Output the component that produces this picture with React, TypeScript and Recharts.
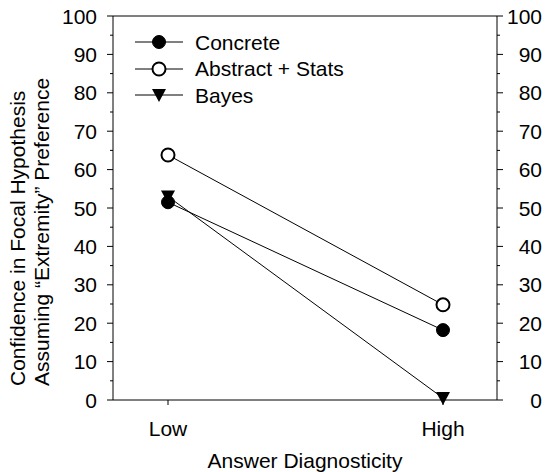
import { Legend, Line, LineChart, ReferenceLine, XAxis, YAxis } from "recharts";

const categories = ["Low", "High"];
const concrete = [51.5, 18.2];
const abstractStats = [63.8, 24.8];
const bayes = [53, 0.5];
const yTicks = [0, 5, 10, 15, 20, 25, 30, 35, 40, 45, 50, 55, 60, 65, 70, 75, 80, 85, 90, 95, 100];

const FONT = "'Liberation Sans', Arial, Helvetica, sans-serif";
const FONT_SIZE = 21;

const data = categories.map((name, i) => ({
  name,
  concrete: concrete[i],
  abstractStats: abstractStats[i],
  bayes: bayes[i],
}));

// marker shapes shared between the plotted points and the legend
function Marker({ kind, cx, cy }: { kind: string; cx: number; cy: number }) {
  if (kind === "bayes") {
    return <path d={`M${cx - 7},${cy - 6} L${cx + 7},${cy - 6} L${cx},${cy + 7} Z`} fill="#000" />;
  }
  const open = kind === "abstractStats";
  return <circle cx={cx} cy={cy} r={6.5} fill={open ? "#fff" : "#000"} stroke="#000" strokeWidth={open ? 2 : 1} />;
}

const SERIES = [
  { key: "concrete", label: "Concrete" },
  { key: "abstractStats", label: "Abstract + Stats" },
  { key: "bayes", label: "Bayes" },
];

function makeDot(kind: string) {
  return (props: { cx?: number; cy?: number; index?: number }) => (
    <Marker key={`${kind}-${props.index}`} kind={kind} cx={props.cx ?? 0} cy={props.cy ?? 0} />
  );
}

function LegendContent() {
  return (
    <div style={{ fontFamily: FONT, fontSize: FONT_SIZE, color: "#000" }}>
      {SERIES.map((s) => (
        <div key={s.key} style={{ height: 26.5, display: "flex", alignItems: "center" }}>
          <svg width={48} height={18} style={{ overflow: "visible" }}>
            <line x1={0} x2={48} y1={9} y2={9} stroke="#000" strokeWidth={1} />
            <Marker kind={s.key} cx={24} cy={9} />
          </svg>
          <span style={{ marginLeft: 12, lineHeight: 1 }}>{s.label}</span>
        </div>
      ))}
    </div>
  );
}

// minor ticks every 5 are short and unlabeled; majors every 10 carry the number
function LeftTick({ x, y, payload }: { x: number; y: number; payload: { value: number } }) {
  const major = payload.value % 10 === 0;
  return (
    <g>
      <line x1={x - (major ? 6 : 3)} x2={x} y1={y} y2={y} stroke="#000" />
      {major && (
        <text x={x - 16} y={y} textAnchor="end" dominantBaseline="central" fontFamily={FONT} fontSize={FONT_SIZE} fill="#000">
          {payload.value}
        </text>
      )}
    </g>
  );
}

function RightTick({ x, y, payload }: { x: number; y: number; payload: { value: number } }) {
  const major = payload.value % 10 === 0;
  return (
    <g>
      <line x1={x} x2={x + (major ? 6 : 3)} y1={y} y2={y} stroke="#000" />
      {major && (
        <text x={x + 45} y={y} textAnchor="end" dominantBaseline="central" fontFamily={FONT} fontSize={FONT_SIZE} fill="#000">
          {payload.value}
        </text>
      )}
    </g>
  );
}

function XTick({ x, y, payload }: { x: number; y: number; payload: { value: string } }) {
  return (
    <text x={x} y={y + 31} textAnchor="middle" fontFamily={FONT} fontSize={FONT_SIZE} fill="#000">
      {payload.value}
    </text>
  );
}

function XTitle({ viewBox }: { viewBox?: { x: number; y: number; width: number; height: number } }) {
  if (!viewBox) return null;
  return (
    <text x={viewBox.x + viewBox.width / 2} y={viewBox.y + 68} textAnchor="middle" fontFamily={FONT} fontSize={FONT_SIZE} fill="#000">
      Answer Diagnosticity
    </text>
  );
}

function YTitle({ viewBox }: { viewBox?: { x: number; y: number; width: number; height: number } }) {
  if (!viewBox) return null;
  const base = viewBox.y + viewBox.height - 14;
  return (
    <g fontFamily={FONT} fontSize={FONT_SIZE} fill="#000">
      <text x={25} y={base} textAnchor="start" transform={`rotate(-90 25 ${base})`}>
        Confidence in Focal Hypothesis
      </text>
      <text x={49} y={base} textAnchor="start" transform={`rotate(-90 49 ${base})`}>
        Assuming “Extremity” Preference
      </text>
    </g>
  );
}

export default function App() {
  return (
    <div style={{ position: "absolute", left: 0, top: 0, width: 549, height: 472, background: "#fff" }}>
      <LineChart width={549} height={472} data={data} margin={{ top: 16, right: 0, bottom: 0, left: 0 }}>
        <XAxis
          dataKey="name"
          type="category"
          scale="point"
          padding={{ left: 55, right: 54 }}
          height={72}
          stroke="#000"
          tickSize={5}
          tickMargin={0}
          tick={XTick}
          label={{ content: XTitle }}
        />
        <YAxis
          yAxisId="left"
          domain={[0, 100]}
          ticks={yTicks}
          interval={0}
          width={113}
          stroke="#000"
          tickLine={false}
          tickSize={0}
          tickMargin={0}
          tick={LeftTick}
          label={{ content: YTitle }}
        />
        <YAxis
          yAxisId="right"
          orientation="right"
          domain={[0, 100]}
          ticks={yTicks}
          interval={0}
          width={52}
          stroke="#000"
          tickLine={false}
          tickSize={0}
          tickMargin={0}
          tick={RightTick}
        />
        <ReferenceLine yAxisId="left" y={100} stroke="#000" />
        <Legend
          layout="vertical"
          align="center"
          verticalAlign="middle"
          content={LegendContent}
          wrapperStyle={{ left: 135, top: 29, width: 260, right: "auto", bottom: "auto" }}
        />
        <Line yAxisId="left" dataKey="bayes" stroke="#000" strokeWidth={1} dot={makeDot("bayes")} activeDot={false} isAnimationActive={false} />
        <Line yAxisId="left" dataKey="abstractStats" stroke="#000" strokeWidth={1} dot={makeDot("abstractStats")} activeDot={false} isAnimationActive={false} />
        <Line yAxisId="right" dataKey="concrete" stroke="#000" strokeWidth={1} dot={makeDot("concrete")} activeDot={false} isAnimationActive={false} />
      </LineChart>
    </div>
  );
}
